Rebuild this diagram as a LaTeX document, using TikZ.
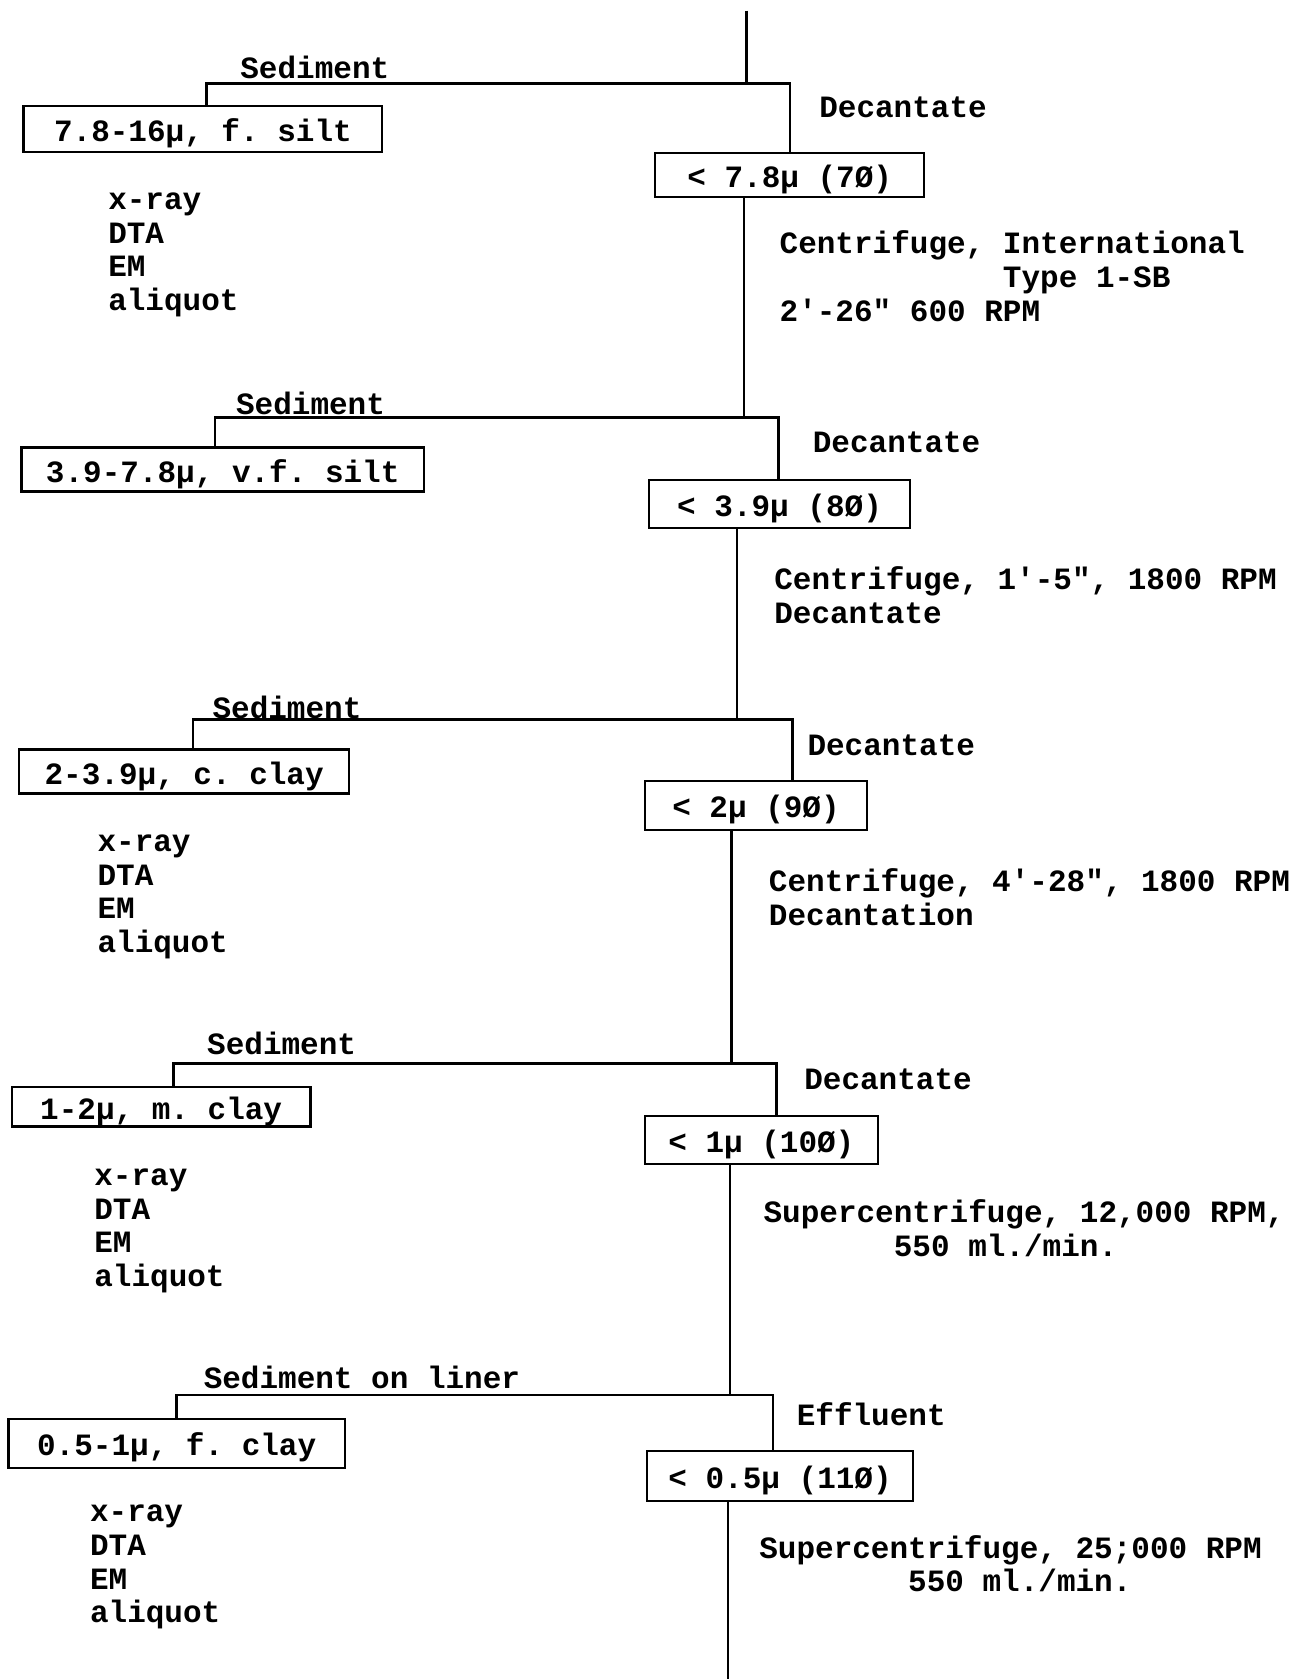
\documentclass[tikz,border=0pt]{standalone}
\usepackage{fontspec}
\setmainfont{Liberation Mono}
\newdimen\pxu \pxu=0.53525pt
\newcommand\typw{\fontsize{15.5pt}{16.8pt}\selectfont\bfseries\frenchspacing}
\newcommand\sq{\textquotesingle}
\newcommand\dq{\textquotedbl}
\begin{document}
\begin{tikzpicture}[x=0.53525pt,y=-0.53525pt,line width=1.2pt,
  box/.style={draw,line width=1.1pt,inner sep=0pt,font=\typw,text height=12.5pt,text depth=0pt},
  lbl/.style={inner sep=0pt,anchor=west,font=\typw},
  lst/.style={inner sep=0pt,anchor=west,align=left,font=\typw},
  ctr/.style={inner sep=0pt,font=\typw}]
\useasboundingbox (0,0) rectangle (1206,1568);
% ---------- level 1
\coordinate (top) at (697,10);
\coordinate (j1) at (697,78);
\coordinate (l1) at (193,78);
\coordinate (r1) at (738,78);
\node[box,minimum width=335\pxu,minimum height=43\pxu] (A1) at (189.5,120.5) {7.8-16μ, f. silt};
\node[box,minimum width=251\pxu,minimum height=41\pxu] (B1) at (737.5,163.5) {< 7.8μ (7Ø)};
\draw (top) -- (j1);
\draw (l1 |- A1.north) -- (l1) -- (r1) -- (r1 |- B1.north);
\node[ctr] (s1) at (294,63) {Sediment};
\node[lbl] (d1) at (764,100) {Decantate};
\node[lst] (x1) at (100,238) {x-ray\\DTA\\EM\\aliquot};
\node[lst] (c1) at (727,258) {Centrifuge, International\\\phantom{Centrifuge, }Type 1-SB\\2\sq-26\dq{} 600 RPM};
% ---------- level 2
\coordinate (j2) at (695,390);
\coordinate (l2) at (201,390);
\coordinate (r2) at (727,390);
\draw (B1.south -| j2) -- (j2);
\node[box,minimum width=376\pxu,minimum height=41\pxu] (A2) at (208,438.5) {3.9-7.8μ, v.f. silt};
\node[box,minimum width=244\pxu,minimum height=45\pxu] (B2) at (728,470.5) {< 3.9μ (8Ø)};
\draw (l2 |- A2.north) -- (l2) -- (r2) -- (r2 |- B2.north);
\node[ctr] (s2) at (290,377) {Sediment};
\node[lbl] (d2) at (758,413) {Decantate};
\node[lst] (c2) at (722,556) {Centrifuge, 1\sq-5\dq, 1800 RPM\\Decantate};
% ---------- level 3
\coordinate (j3) at (688,672);
\coordinate (l3) at (180,672);
\coordinate (r3) at (740,672);
\draw (B2.south -| j3) -- (j3);
\node[box,minimum width=308\pxu,minimum height=41\pxu] (A3) at (172,720.5) {2-3.9μ, c. clay};
\node[box,minimum width=208\pxu,minimum height=46\pxu] (B3) at (706,752) {< 2μ (9Ø)};
\draw (l3 |- A3.north) -- (l3) -- (r3) -- (r3 |- B3.north);
\node[ctr] (s3) at (268,661) {Sediment};
\node[lbl] (d3) at (753,696) {Decantate};
\node[lst] (x3) at (90,837.5) {x-ray\\DTA\\EM\\aliquot};
\node[lst] (c3) at (717,838) {Centrifuge, 4\sq-28\dq, 1800 RPM\\Decantation};
% ---------- level 4
\coordinate (j4) at (683,993);
\coordinate (l4) at (162,993);
\coordinate (r4) at (725,993);
\draw (B3.south -| j4) -- (j4);
\node[box,minimum width=279\pxu,minimum height=37\pxu] (A4) at (150.5,1033.5) {1-2μ, m. clay};
\node[box,minimum width=218\pxu,minimum height=45\pxu] (B4) at (711,1064.5) {< 1μ (10Ø)};
\draw (l4 |- A4.north) -- (l4) -- (r4) -- (r4 |- B4.north);
\node[ctr] (s4) at (263,974) {Sediment};
\node[lbl] (d4) at (750,1008) {Decantate};
\node[lst] (x4) at (87,1149.5) {x-ray\\DTA\\EM\\aliquot};
\node[lst] (c4) at (712,1150) {Supercentrifuge, 12,000 RPM,\\\phantom{Superce}550 ml./min.};
% ---------- level 5
\coordinate (j5) at (682,1303);
\coordinate (l5) at (165,1303);
\coordinate (r5) at (722,1303);
\draw (B4.south -| j5) -- (j5);
\node[box,minimum width=314\pxu,minimum height=46\pxu] (A5) at (165,1348) {0.5-1μ, f. clay};
\node[box,minimum width=249\pxu,minimum height=47\pxu] (B5) at (728.5,1378.5) {< 0.5μ (11Ø)};
\draw (l5 |- A5.north) -- (l5) -- (r5) -- (r5 |- B5.north);
\node[ctr] (s5) at (338,1286) {Sediment on liner};
\node[lbl] (d5) at (743,1321) {Effluent};
\node[lst] (x5) at (83,1463.5) {x-ray\\DTA\\EM\\aliquot};
\node[lst] (c5) at (708,1463) {Supercentrifuge, 25;000 RPM\\\phantom{Supercen}550 ml./min.};
\coordinate (bot) at (680,1568);
\draw (B5.south -| bot) -- (bot);
\end{tikzpicture}
\end{document}
